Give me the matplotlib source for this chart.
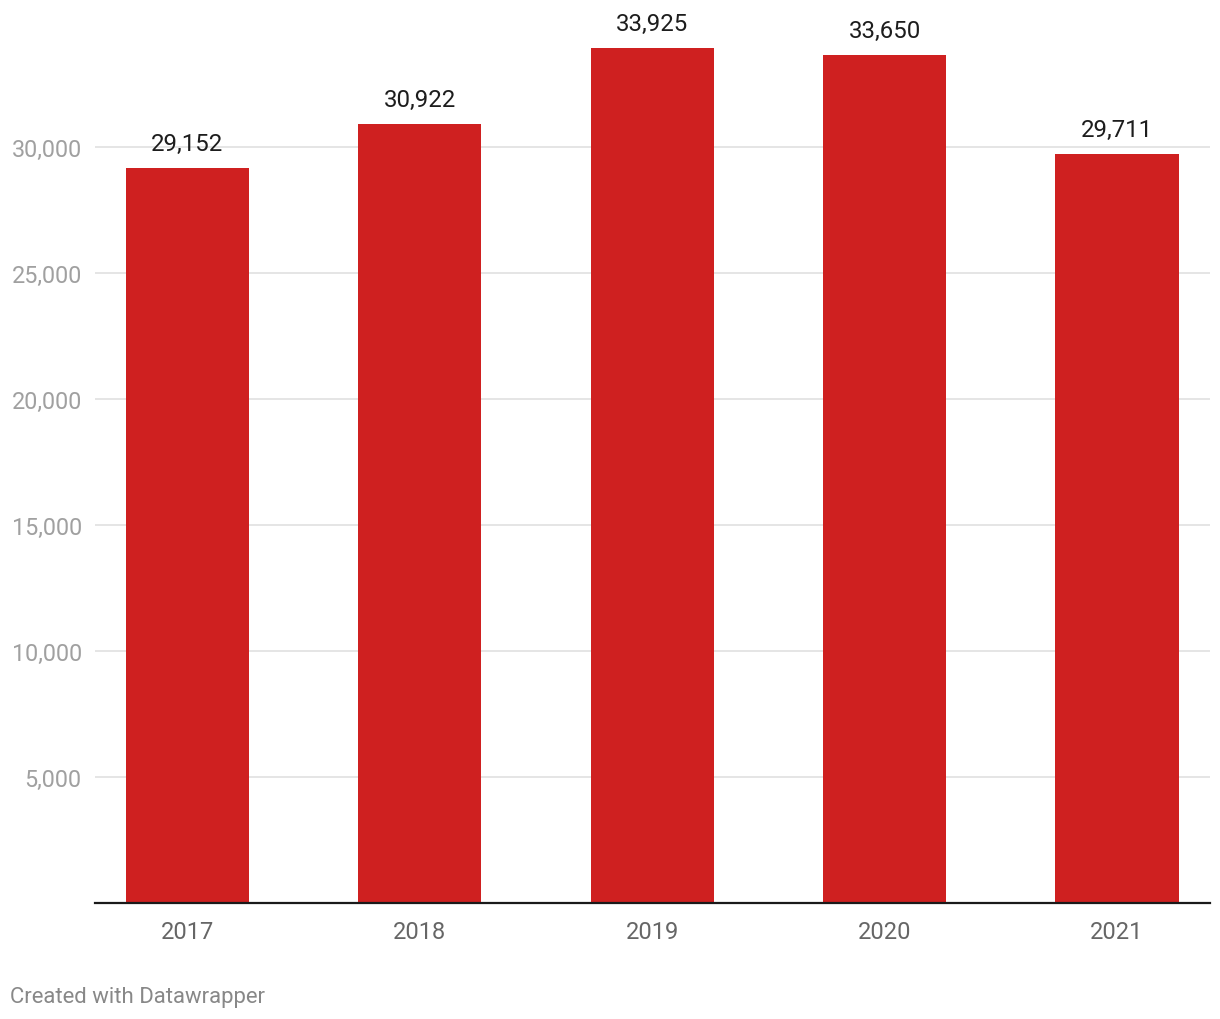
import matplotlib.pyplot as plt

plt.rcParams['font.family'] = ['Roboto', 'DejaVu Sans']

years = ['2017', '2018', '2019', '2020', '2021']
values = [29152, 30922, 33925, 33650, 29711]
yticks = [5000, 10000, 15000, 20000, 25000, 30000]

fig = plt.figure(figsize=(12.2, 10.2), dpi=100)
ax = fig.add_axes([95 / 1220, 1 - 904 / 1020, 1115 / 1220, 904 / 1020])

x = range(len(years))
ax.bar(x, values, width=0.53, color='#cf2020', zorder=2)

for xi, v in zip(x, values):
    ax.annotate(f'{v:,}', (xi, v), xytext=(0, 9.5), textcoords='offset points',
                ha='center', va='bottom', fontsize=17.3, color='#1d1d1d')

ax.set_xlim(-0.398, 4.40)
ax.set_ylim(0, 35870)
ax.set_yticks(yticks)
ax.set_yticklabels([f'{t:,}' for t in yticks])
ax.set_xticks(list(x))
ax.set_xticklabels(years)
ax.grid(axis='y', color='#e3e3e3', linewidth=1.3, zorder=0)
ax.tick_params(axis='y', length=0, pad=9.5, labelsize=16.8, labelcolor='#a0a0a0')
ax.tick_params(axis='x', length=0, pad=12, labelsize=17, labelcolor='#666666')
for s in ['top', 'right', 'left']:
    ax.spines[s].set_visible(False)
ax.spines['bottom'].set_color('#1a1a1a')
ax.spines['bottom'].set_linewidth(1.6)
ax.spines['bottom'].set_zorder(3)

fig.text(10 / 1220, 1 - 998 / 1020, 'Created with Datawrapper', fontsize=15.9,
         color='#888888', ha='left', va='center')

fig.savefig('out.png', dpi=100, facecolor='white')
